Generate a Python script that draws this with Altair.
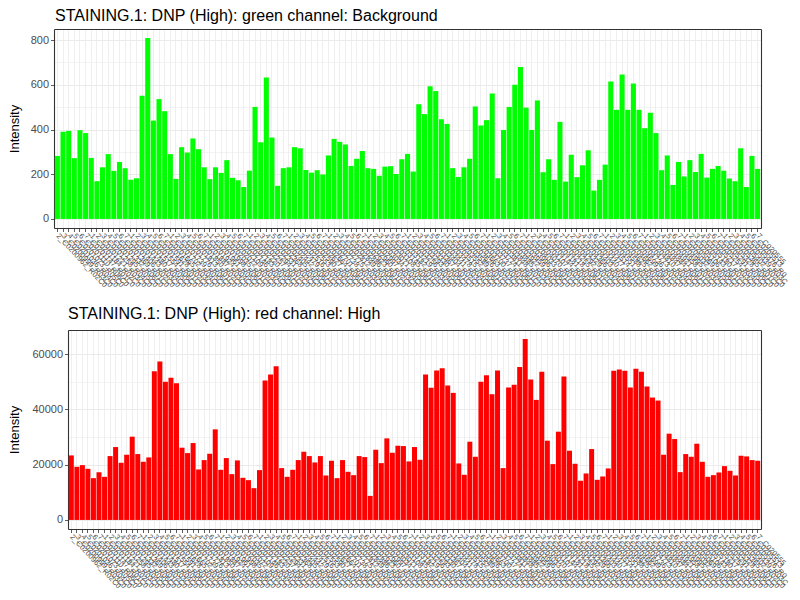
import altair as alt
import pandas as pd

# ---- data -------------------------------------------------------------
green_values = [
    282, 390, 394, 272, 397, 384, 273, 169, 231, 290,
    215, 255, 227, 175, 182, 551, 809, 440, 536, 482,
    290, 179, 321, 297, 360, 312, 231, 178, 231, 206,
    263, 184, 173, 143, 216, 501, 343, 633, 364, 148,
    227, 231, 321, 316, 219, 207, 218, 199, 284, 358,
    345, 333, 237, 269, 304, 227, 224, 193, 234, 236,
    201, 267, 291, 212, 513, 469, 593, 572, 446, 425,
    227, 188, 231, 269, 503, 418, 442, 561, 182, 398,
    501, 600, 679, 498, 398, 530, 209, 267, 175, 434,
    167, 287, 187, 240, 307, 127, 175, 243, 615, 488,
    646, 488, 606, 488, 406, 475, 384, 218, 284, 152,
    255, 190, 263, 210, 291, 185, 224, 237, 216, 181,
    169, 316, 143, 282, 224,
]

red_values = [
    23350, 19240, 19840, 18510, 15130, 17300, 15610, 23110, 26380, 20690,
    23600, 30130, 23840, 21050, 22630, 53850, 57350, 49970, 51430, 49490,
    26140, 24200, 27830, 18270, 21660, 23960, 32790, 18150, 22390, 16580,
    21540, 15250, 14400, 11500, 18030, 50460, 52640, 55660, 18760, 15610,
    18150, 21660, 24680, 23110, 20810, 23110, 16090, 21420, 15130, 21660,
    17420, 16210, 23110, 22750, 8710, 25410, 20570, 29520, 24320, 26860,
    26740, 21180, 26380, 21780, 52640, 47800, 54090, 54930, 48640, 45980,
    20450, 16340, 28310, 22870, 49970, 52390, 45500, 54090, 18760, 47920,
    48880, 55300, 65460, 50820, 43440, 53600, 28680, 20210, 31940, 51910,
    25050, 20330, 14160, 16820, 25650, 14520, 15730, 18630, 53970, 54450,
    53970, 47920, 54690, 53600, 48280, 44290, 43200, 23600, 31220, 29280,
    17300, 23840, 22870, 27590, 21050, 15610, 16210, 17180, 19480, 17790,
    16090, 23230, 22990, 21660, 21420,
]

sample_ids = list(range(1, 126))
sample_names = [f"{(i % 7) + 1}_C0{200925 + i * 37:06d}_R0{(i % 6) + 1}C0" for i in sample_ids]

green_title = "STAINING.1: DNP (High): green channel: Background"
red_title = "STAINING.1: DNP (High): red channel: High"

FONT = "Liberation Sans"
BORDER = "#333333"
LABEL_ANGLE = 47
CHAR_DX = 3.0  # horizontal advance of one rotated label character (px)
ORIGIN = 67.3  # page x of the shared group origin
GROUP_W = 693


def panel(values, color, title, shift, step_major, step_minor, y_title_pad, title_dx, title_offset):
    df = pd.DataFrame({"sample": sample_names, "value": values})
    vmax = max(values)
    lo, hi = -0.05 * vmax, 1.05 * vmax
    ticks = [v for v in range(0, int(hi) + 1, step_minor)]
    major_test = f"datum.value % {step_major} === 0"

    full_w = GROUP_W + shift
    left = ORIGIN - shift
    step = full_w / (len(values) + 0.2)
    x_first = left + 0.6 * step
    x_last = left + full_w - 0.6 * step
    a = (786 - x_first) / CHAR_DX
    b = (x_last - x_first) / CHAR_DX
    label_expr = f"substring(datum.label, 0, floor({a:.2f} - {b:.2f} * datum.index))"

    xscale = alt.Scale(paddingInner=0.1, paddingOuter=0.15, range=[-shift, GROUP_W])
    yscale = alt.Scale(domain=[lo, hi], nice=False, zero=False)

    bars = alt.Chart(df).mark_bar(color=color).encode(
        x=alt.X(
            "sample:N",
            sort=None,
            title=None,
            scale=xscale,
            axis=alt.Axis(
                labelAngle=LABEL_ANGLE,
                labelAlign="left",
                labelBaseline="middle",
                labelFontSize=7.5,
                labelColor="#4D4D4D",
                labelFont=FONT,
                labelOverlap=False,
                labelPadding=3,
                labelLimit=0,
                labelExpr=label_expr,
                tickColor=BORDER,
                tickSize=3.5,
                tickWidth=0.8,
                grid=True,
                gridColor="#EBEBEB",
                gridWidth=0.8,
                bandPosition=0.5,
                domain=True,
                domainColor=BORDER,
                domainWidth=1.1,
            ),
        ),
        y=alt.Y(
            "value:Q",
            title="Intensity",
            scale=yscale,
            axis=alt.Axis(
                values=ticks,
                format="d",
                offset=shift,
                labelExpr=f"{major_test} ? datum.label : ''",
                labelFontSize=11,
                labelColor="#4D4D4D",
                labelFont=FONT,
                labelPadding=2,
                tickColor=BORDER,
                tickSize=3.5,
                tickWidth=0.8,
                tickOpacity={"condition": {"test": major_test, "value": 1}, "value": 0},
                grid=True,
                gridColor="#EBEBEB",
                gridWidth={"condition": {"test": major_test, "value": 1.1}, "value": 0.6},
                domain=True,
                domainColor=BORDER,
                domainWidth=1.1,
                titleFont=FONT,
                titleFontSize=13,
                titleFontWeight="normal",
                titleColor="#000000",
                titlePadding=y_title_pad,
            ),
        ),
    )

    frame = alt.Chart(df).mark_bar(opacity=0).encode(
        x=alt.X(
            "sample:N",
            sort=None,
            title=None,
            scale=xscale,
            axis=alt.Axis(orient="top", labels=False, ticks=False, grid=False,
                          domain=True, domainColor=BORDER, domainWidth=1.1),
        ),
        y=alt.Y(
            "value:Q",
            title=None,
            scale=yscale,
            axis=alt.Axis(orient="right", labels=False, ticks=False, grid=False,
                          domain=True, domainColor=BORDER, domainWidth=1.1),
        ),
    )

    return (
        alt.layer(bars, frame)
        .resolve_axis(x="independent", y="independent")
        .properties(
            width=GROUP_W,
            height=199,
            title=alt.TitleParams(
                title,
                anchor="start",
                font=FONT,
                fontSize=16,
                fontWeight="normal",
                color="#000000",
                offset=title_offset,
                dx=title_dx,
                frame="group",
            ),
        )
    )


top = panel(green_values, "#00FF00", green_title, 14, 200, 100, 8.4, -13, 5)
bottom = panel(red_values, "#FF0000", red_title, 0, 20000, 10000, 10, 0, 8)

chart = (
    alt.vconcat(top, bottom, spacing=17)
    .configure(background="white")
    .configure_view(stroke=None)
    .properties(padding={"left": 0, "top": 0, "right": 0, "bottom": 0})
)

chart.save("out.html", embed_options={"renderer": "svg", "actions": False})
